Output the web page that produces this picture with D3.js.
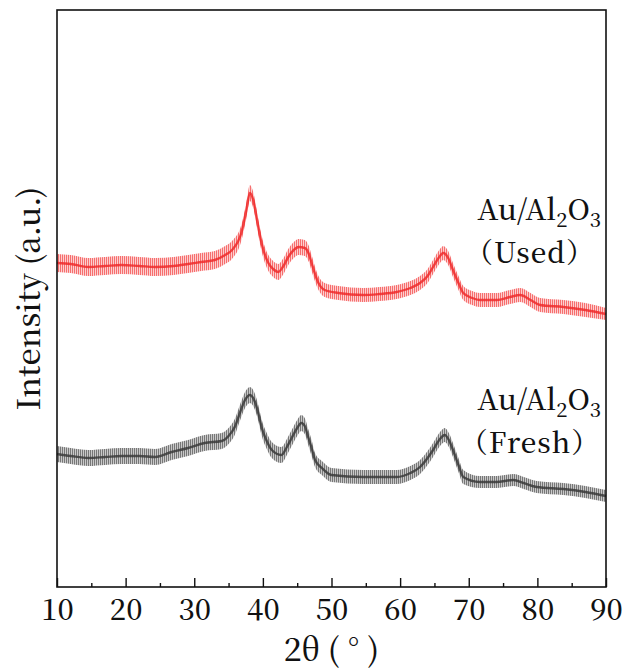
<!DOCTYPE html>
<html>
<head>
<meta charset="utf-8">
<script src="https://cdn.jsdelivr.net/npm/d3@7/dist/d3.min.js"></script>
<style>
html,body{margin:0;padding:0;background:#fff;}
svg{display:block;}
svg text{font-family:'Noto Serif CJK SC','Noto Serif','Liberation Serif','Times New Roman',serif;font-weight:500;}
</style>
</head>
<body>
<svg id="chart" width="627" height="672"></svg>
<script>
// ---- data (intensity in arbitrary units) ----
const usedTheta = [10,12,14.6,17,19.4,22,24.3,27,29.1,31,33,34.5,35.5,36.9,37.6,38.1,38.6,39.2,39.8,40.8,41.5,42.25,43,43.7,44.5,45.2,46.1,46.7,47.1,48.1,49,51,54.6,57,59.5,61.5,62.9,64,64.8,65.6,66.3,67,67.7,68.5,69.2,70.5,71.6,74.1,76,77.5,79,80.4,83.8,87,90];
const usedValues = [324,323,320,321,322,321,320,321,323,325,327,332,337,355,377,394,387,365,344,324,318,315,321,330,337,340,339,333,324,304,297,294,292,293,295,299,304,311,320,329,334,329,317,304,294,289,287,287,290,292,287,282,280,277,273];
const usedSpread = [9,9,9,9,9,9,9,9,9,9,9,9,9,8,8,8,8,8,8,8,8,8,8,8,8,8,8,8,8,7,7,7,7,7,7,7,7,7,7,7,7,7,7,7,7,7,7,7,7,7,7,7,7,7,6];

const freshTheta = [10,12,14.6,17,19.4,22,24.3,26.7,29.1,31.5,34,35,35.9,36.7,37.4,38.1,38.85,39.4,39.8,40.5,41.3,42.7,43.5,44.2,45,45.6,46.1,46.6,47.1,47.6,48.6,50,54.6,59.5,61.5,62.9,64,64.8,65.7,66.5,67.1,67.7,68.5,69.2,71.6,74,76.5,78,79.9,83.8,87,90];
const freshValues = [133,131,129,130,131,131,130,135,139,144,146,151,160,175,187,192,185,172,160,147,137,132,140,149,159,164,161,150,139,127,119,112,110,110,114,120,129,137,147,152,147,137,122,110,105,105,107,104,100,98,95,91];
const freshSpread = [8,8,8,8,8,8,8,8,8,8,8,8,8,8,8,8,8,8,8,8,8,8,8,8,8,8,8,8,8,7,7,7,7,7,7,7,7,7,7,7,7,7,7,7,6,6,6,6,6,6,6,6];

const xTicks = [10,20,30,40,50,60,70,80,90];
const xMinorTicks = [15,25,35,45,55,65,75,85];

// ---- layout ----
const svg = d3.select('#chart');
const L = 57, R = 606, T = 10, B = 587;
const x = d3.scaleLinear().domain([10, 90]).range([L, R]);
const y = d3.scaleLinear().domain([0, 577]).range([B, T]);

const defs = svg.append('defs');
function hatch(id, c1, c2) {
  const p = defs.append('pattern').attr('id', id).attr('patternUnits', 'userSpaceOnUse')
    .attr('width', 2).attr('height', 4);
  p.append('rect').attr('width', 2).attr('height', 4).attr('fill', c2);
  p.append('rect').attr('width', 1).attr('height', 4).attr('fill', c1);
}
hatch('hRed', '#f44a4a', '#fcc4c4');
hatch('hGray', '#555', '#bbb');

function drawSeries(theta, vals, spread, fillId, lineColor) {
  const pts = theta.map((t, i) => ({t, v: vals[i], s: spread[i]}));
  const area = d3.area().x(d => x(d.t)).y0(d => y(d.v - d.s)).y1(d => y(d.v + d.s)).curve(d3.curveMonotoneX);
  const line = d3.line().x(d => x(d.t)).y(d => y(d.v)).curve(d3.curveMonotoneX);
  svg.append('path').attr('d', area(pts)).attr('fill', `url(#${fillId})`).attr('opacity', 0.8);
  svg.append('path').attr('d', line(pts)).attr('fill', 'none').attr('stroke', lineColor)
    .attr('stroke-width', 2.4).attr('opacity', 0.85);
}

drawSeries(usedTheta, usedValues, usedSpread, 'hRed', '#ee2b2b');
drawSeries(freshTheta, freshValues, freshSpread, 'hGray', '#3a3a3a');

// frame
svg.append('rect').attr('x', L).attr('y', T).attr('width', R - L).attr('height', B - T)
  .attr('fill', 'none').attr('stroke', '#111').attr('stroke-width', 1.6);

// bottom axis ticks (inward)
const gx = svg.append('g').attr('transform', `translate(0,${B})`);
gx.call(d3.axisBottom(x).tickValues(xTicks).tickSize(-9).tickPadding(12).tickFormat(d3.format('d')));
gx.select('.domain').remove();
gx.attr('font-family', null);
gx.selectAll('.tick line').attr('stroke', '#111').attr('stroke-width', 1.4);
gx.selectAll('.tick text').attr('font-size', 29).attr('fill', '#111');
const gm = svg.append('g').attr('transform', `translate(0,${B})`);
gm.call(d3.axisBottom(x).tickValues(xMinorTicks).tickSize(-4).tickFormat(''));
gm.select('.domain').remove();
gm.selectAll('.tick line').attr('stroke', '#111').attr('stroke-width', 1.4);

// axis titles
svg.append('text').attr('x', (L + R) / 2).attr('y', 661).attr('text-anchor', 'middle')
  .attr('font-size', 32).attr('fill', '#111').text('2θ ( ° )');
svg.append('text').attr('transform', `translate(40,${(T + B) / 2}) rotate(-90)`).attr('text-anchor', 'middle')
  .attr('font-size', 31).attr('fill', '#111').text('Intensity (a.u.)');

// series labels
function label(yBase, sub) {
  const t = svg.append('text').attr('x', 601).attr('y', yBase).attr('text-anchor', 'end')
    .attr('font-size', 29).attr('fill', '#111');
  t.append('tspan').text('Au/Al');
  t.append('tspan').attr('font-size', 20).attr('dy', 7).text('2');
  t.append('tspan').attr('dy', -7).text('O');
  t.append('tspan').attr('font-size', 20).attr('dy', 7).text('3');
  svg.append('text').attr('x', 530).attr('y', yBase + 43).attr('text-anchor', 'middle')
    .attr('font-size', 28).attr('letter-spacing', 1).attr('fill', '#111').text(sub);
}
label(220, '（Used）');
label(410, '（Fresh）');
</script>
</body>
</html>
